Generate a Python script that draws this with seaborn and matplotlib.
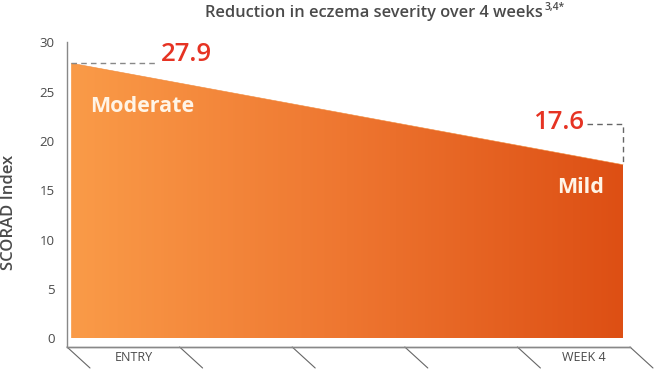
import numpy as np
import pandas as pd
import seaborn as sns
import matplotlib.pyplot as plt
from matplotlib.colors import LinearSegmentedColormap

# Data.
weeks = [0, 4]
scorad = [27.9, 17.6]
value_labels = ["27.9", "17.6"]
severity_labels = ["Moderate", "Mild"]
x_labels = ["ENTRY", "WEEK 4"]
y_ticks = [0, 5, 10, 15, 20, 25, 30]

sns.set_style("white")
plt.rcParams['font.family'] = ['Open Sans', 'DejaVu Sans']

grey = "#4a4a4a"
red = "#e63323"

fig = plt.figure(figsize=(6.56, 3.71), dpi=100)
ax = fig.add_axes([67 / 656, 1 - 347 / 371, 563 / 656, 305 / 371])

df = pd.DataFrame({"week": weeks, "score": scorad})

# Gradient-filled area under the line.
poly = ax.fill_between(df["week"], df["score"], 0, color="none", lw=0)
cmap = LinearSegmentedColormap.from_list("orange", ["#fa9b48", "#ee7630", "#dd4f14"])
grad = np.linspace(0, 1, 256).reshape(1, -1)
img = ax.imshow(grad, cmap=cmap, aspect="auto", extent=[weeks[0], weeks[-1], 0, max(scorad)],
                origin="lower", zorder=1)
img.set_clip_path(poly.get_paths()[0], transform=ax.transData)
sns.lineplot(data=df, x="week", y="score", ax=ax, color="#f08a3c", lw=0.4, zorder=2)

ax.set_xlim(-0.03, 4.05)
ax.set_ylim(-0.9, 30.05)

# Dashed guides to the value labels.
ax.plot([weeks[0], 0.62], [scorad[0], scorad[0]], ls=(0, (4, 3)), color="#888888", lw=1)
guide = pd.DataFrame({"x": [3.74, weeks[1], weeks[1]], "y": [21.7, 21.7, scorad[1]]})
sns.lineplot(data=guide, x="x", y="y", sort=False, estimator=None, ax=ax,
             color="#666666", lw=1, linestyle=(0, (4, 3)))

ax.text(0.65, scorad[0] + 0.9, value_labels[0], color=red, fontsize=18.5, ha="left",
        va="center", fontweight="semibold")
ax.text(3.72, 21.9, value_labels[1], color=red, fontsize=18.5, ha="right",
        va="center", fontweight="semibold")
ax.text(0.14, 23.5, severity_labels[0], color="#fff4e6", fontsize=15.5, ha="left",
        va="center", fontweight="bold")
ax.text(3.86, 15.3, severity_labels[1], color="#fff4e6", fontsize=15.5, ha="right",
        va="center", fontweight="bold")

# Axes styling.
for side in ["top", "right"]:
    ax.spines[side].set_visible(False)
ax.spines["left"].set_color("#888888")
ax.spines["bottom"].set_color("#888888")
ax.spines["left"].set_linewidth(1)
ax.spines["bottom"].set_linewidth(1)
ax.set_yticks(y_ticks)
ax.tick_params(axis="y", length=0, pad=9, labelsize=9.5, labelcolor=grey)
ax.set_xticks([])
ax.set_xlabel("")
ax.set_ylabel("SCORAD Index", fontsize=12, color=grey, fontweight="semibold")
ax.yaxis.set_label_coords(-0.088, 0.44)

# Slanted floor lines.
dx, dy = 23 / 563, -21 / 305
for i in range(6):
    x0 = i / 5
    ax.plot([x0, x0 + dx], [0, dy], transform=ax.transAxes, clip_on=False,
            color="#666666", lw=0.8)
ax.plot([0, 1], [0, 0], transform=ax.transAxes, clip_on=False, color="#888888", lw=1)
for pos, lab in zip([0, 4], x_labels):
    ax.text(pos / 5 + 0.1 + dx / 2 - 0.002, -0.035, lab, transform=ax.transAxes,
            ha="center", va="center", fontsize=9, color=grey)

# Title with superscript references.
fig.text(543 / 656, 1 - 17 / 371, "Reduction in eczema severity over 4 weeks", ha="right",
         va="baseline", fontsize=11.8, color=grey, fontweight="semibold")
fig.text(545 / 656, 1 - 10 / 371, "3,4*", ha="left", va="baseline", fontsize=7.5,
         color=grey, fontweight="semibold")

fig.savefig("out.png", dpi=100)
